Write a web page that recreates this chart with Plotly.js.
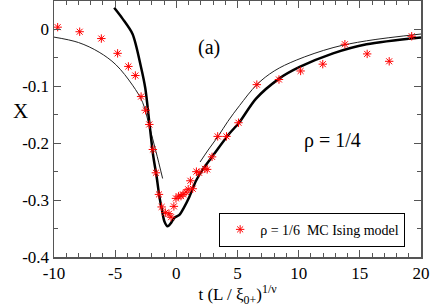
<!DOCTYPE html>
<html>
<head>
<meta charset="utf-8">
<script src="https://cdn.plot.ly/plotly-3.0.1.min.js"></script>
<style>html,body{margin:0;padding:0;background:#fff;}#chart{width:432px;height:307px;}</style>
</head>
<body>
<div id="chart"></div>
<script>
// MC Ising model data, rho = 1/6
const mcX = [-9.7, -7.9, -6.13, -4.8, -3.92, -3.35, -2.88, -2.51, -2.21, -1.92, -1.67, -1.42, -1.2, -0.9, -0.6, -0.43, -0.2, -0.03, 0.19, 0.38, 0.55, 0.79, 0.97, 1.15, 1.34, 1.64, 1.86, 2.33, 2.52, 2.92, 3.38, 4.1, 5.08, 6.58, 8.39, 10.16, 11.97, 13.78, 15.6, 17.4, 19.24];
const mcY = [0.004, -0.004, -0.016, -0.042, -0.065, -0.081, -0.118, -0.142, -0.167, -0.211, -0.252, -0.29, -0.312, -0.322, -0.324, -0.33, -0.311, -0.297, -0.293, -0.293, -0.29, -0.286, -0.281, -0.266, -0.28, -0.25, -0.252, -0.245, -0.246, -0.224, -0.188, -0.188, -0.164, -0.097, -0.088, -0.073, -0.061, -0.026, -0.043, -0.056, -0.012];

// thick curve (rho = 1/4)
const thickX = [-5.08, -4.4, -3.58, -2.89, -2.54, -2.21, -1.89, -1.61, -1.39, -1.17, -0.98, -0.71, -0.43, -0.16, 0.25, 0.6, 1.07, 1.61, 2.16, 2.98, 4.34, 5.16, 6.5, 8.44, 10.08, 12.81, 15.55, 20];
const thickY = [0.038, 0.019, -0.008, -0.066, -0.103, -0.163, -0.222, -0.259, -0.293, -0.318, -0.337, -0.346, -0.340, -0.331, -0.326, -0.314, -0.294, -0.266, -0.246, -0.222, -0.183, -0.163, -0.122, -0.086, -0.066, -0.042, -0.026, -0.014];

// thin curve, left branch
const thinLX = [-10, -8, -6.31, -4.94, -3.58, -2.76, -2.21, -1.66, -1.12];
const thinLY = [-0.0135, -0.023, -0.040, -0.062, -0.098, -0.128, -0.17, -0.215, -0.262];
// thin curve, right branch
const thinRX = [1.94, 2.6, 3.44, 4.2, 5.16, 6.58, 8.0, 9.8, 12.81, 15.55, 20];
const thinRY = [-0.233, -0.212, -0.187, -0.162, -0.134, -0.097, -0.073, -0.054, -0.032, -0.020, -0.008];

const xTicks = [-10, -5, 0, 5, 10, 15, 20];
const xTickText = ['-10', '-5', '0', '5', '10', '15', '20'];
const yTicks = [-0.4, -0.3, -0.2, -0.1, 0];
const yTickText = ['-0.4', '-0.3', '-0.2', '-0.1', '0'];

const serif = 'Liberation Serif, Times New Roman, serif';

const traces = [
  {x: thinLX, y: thinLY, mode: 'lines', line: {color: '#222', width: 1, shape: 'spline'}, showlegend: false, hoverinfo: 'skip'},
  {x: thinRX, y: thinRY, mode: 'lines', line: {color: '#222', width: 1, shape: 'spline'}, showlegend: false, hoverinfo: 'skip'},
  {x: thickX, y: thickY, mode: 'lines', line: {color: '#000', width: 2.5, shape: 'spline', smoothing: 0.8}, showlegend: false, hoverinfo: 'skip'},
  {x: mcX, y: mcY, mode: 'markers', name: '\u03c1 = 1/6  MC Ising model',
   marker: {symbol: 'asterisk-open', size: 7, color: '#ff0000', line: {color: '#ff2020', width: 1}}}
];

const axisCommon = {
  showgrid: false, zeroline: false, showline: true, linecolor: '#555', linewidth: 1.5,
  mirror: 'allticks', ticks: 'inside', ticklen: 7, tickwidth: 1, tickcolor: '#555',
  tickfont: {family: serif, size: 17, color: '#000'}
};

const layout = {
  width: 432, height: 307,
  margin: {l: 54, r: 11, t: 1, b: 50},
  paper_bgcolor: '#fff', plot_bgcolor: '#fff',
  xaxis: Object.assign({}, axisCommon, {
    range: [-10, 20], tickvals: xTicks, ticktext: xTickText,
    minor: {dtick: 1, tick0: 0, ticks: 'inside', ticklen: 4, tickcolor: '#555'},
    title: {text: 't (L / \u03be<sub>0+</sub>)<sup>1/\u03bd</sup>', standoff: 4,
            font: {family: serif, size: 17, color: '#000'}},
    automargin: false
  }),
  yaxis: Object.assign({}, axisCommon, {
    range: [-0.4, 0.05], tickvals: yTicks, ticktext: yTickText,
    minor: {dtick: 0.05, tick0: 0, ticks: 'inside', ticklen: 4, tickcolor: '#555'}
  }),
  showlegend: true,
  legend: {x: 0.45, y: 0.04, xanchor: 'left', yanchor: 'bottom', bordercolor: '#000', borderwidth: 1,
           bgcolor: '#fff', font: {family: serif, size: 14, color: '#000'}, itemwidth: 30,
           tracegroupgap: 0},
  annotations: [
    {xref: 'x', yref: 'y', x: 2.7, y: -0.032, text: '(a)', showarrow: false,
     font: {family: serif, size: 20, color: '#000'}},
    {xref: 'x', yref: 'y', x: 12.8, y: -0.196, text: '\u03c1 = 1/4', showarrow: false,
     font: {family: serif, size: 20, color: '#000'}},
    {xref: 'paper', yref: 'paper', x: -0.117, y: 0.57, text: 'X', showarrow: false,
     font: {family: serif, size: 21, color: '#000'}}
  ]
};

Plotly.newPlot('chart', traces, layout, {staticPlot: true, displayModeBar: false});
</script>
</body>
</html>
